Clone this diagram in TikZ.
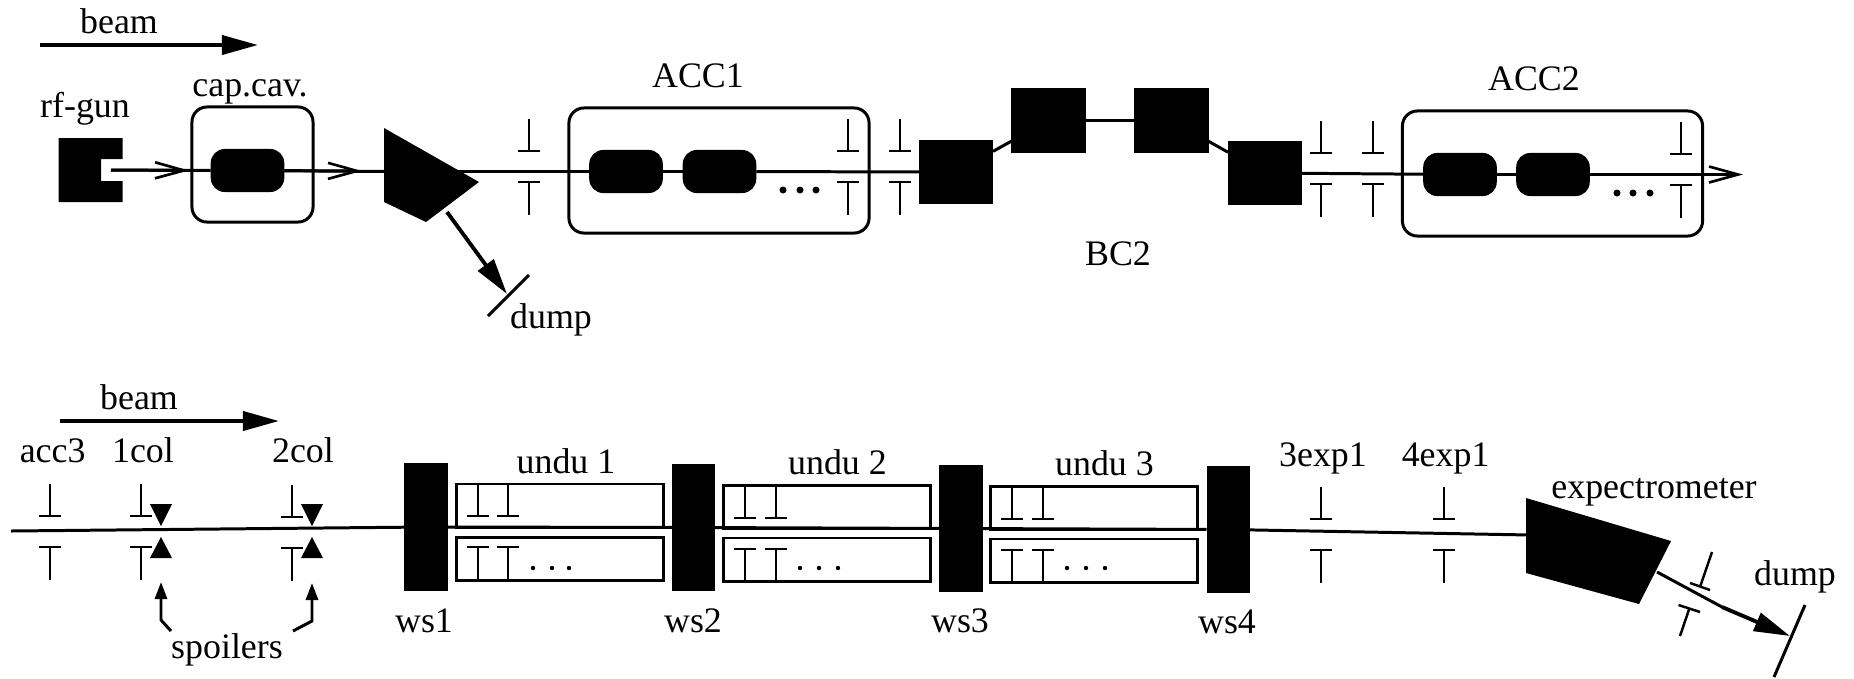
\documentclass[tikz,border=0pt]{standalone}
\usepackage{fontspec}
\setmainfont{Liberation Serif}
\usetikzlibrary{arrows.meta}
\begin{document}
\begin{tikzpicture}[
        x=0.01cm, y=-0.01cm,
        line width=.85pt,
        >={Triangle[length=.36cm,width=.19cm]},
        barb/.style={-{Straight Barb[length=.29cm,width=.16cm,line width=.75pt]}},
        small tip/.style={-{Triangle[length=.17cm,width=.12cm]}},
        screen/.style={line width=.7pt},
        txt/.style={anchor=base, inner sep=0, font=\fontsize{10.2}{12}\selectfont},
        solid box/.style={fill=black, inner sep=0, outer sep=0},
        magnet/.style={solid box, minimum width=.74cm, minimum height=.645cm},
        wscan/.style={solid box, minimum width=.43cm, minimum height=1.27cm},
        cavity/.style={solid box, rounded corners=.14cm, minimum width=.735cm, minimum height=.43cm},
        module/.style={draw, rounded corners=.15cm, inner sep=0, minimum height=1.25cm, minimum width=3cm},
        undubox/.style={draw, inner sep=0, minimum width=2.06cm, minimum height=.43cm}
    ]
    \useasboundingbox (0,0) rectangle (1854,678);

    \node[txt] (beamA) at (119,33) {beam};
    \node[txt] (rfgun) at (85,117) {rf-gun};
    \node[txt] (capcavtxt) at (250,96) {cap.cav.};
    \node[txt] (acc1txt) at (698,87) {ACC1};
    \node[txt] (acc2txt) at (1534,90) {ACC2};
    \node[txt] (bc2txt) at (1118,265) {BC2};
    \node[txt] (dumpA) at (551,328) {dump};

    \node[module, minimum width=1.21cm, minimum height=1.15cm] (capcav) at (252.5,164.5) {};
    \node[module] (acc1) at (719,170.5) {};
    \node[module] (acc2) at (1552.5,173.5) {};
    \node[cavity] (cav0) at (247.5,170.5) {};
    \node[cavity] (cav1a) at (626,171.5) {};
    \node[cavity] (cav1b) at (719.5,171.5) {};
    \node[cavity] (cav2a) at (1460,174.5) {};
    \node[cavity] (cav2b) at (1553,174.5) {};
    \node[magnet] (bc1) at (956,172) {};
    \node[magnet] (bc2) at (1048.5,120.5) {};
    \node[magnet] (bc3) at (1171.5,120.5) {};
    \node[magnet] (bc4) at (1265,173) {};

    \fill (58.5,138) -- (122.6,138) -- (122.6,159) -- (101,159) -- (101,181)
        -- (122.6,181) -- (122.6,202) -- (58.5,202) -- cycle;
    \fill (384,128) -- (479,182) -- (426,222) -- (384,202) -- cycle;
    \coordinate (gunout) at (111,170);
    \coordinate (tipA) at (189,170.5);
    \coordinate (tipB) at (362,171);
    \coordinate (bendin) at (390,171.5);
    \coordinate (bendout) at (447,212);
    \coordinate (dumpAtip) at (507,294);
    \coordinate (dumpAa) at (529,275);
    \coordinate (dumpAb) at (488,316);
    \coordinate (tipC) at (1743,174.5);

    \draw[barb] (gunout) -- (tipA);
    \draw (gunout) -- (cav0);
    \draw[barb] (cav0) -- (tipB);
    \draw (cav0) -- (bendin);
    \draw (bendin) -- (cav1a);
    \draw (cav1a) -- (cav1b);
    \draw (cav1b) -- (bc1);
    \draw (bc1) -- (bc2);
    \draw (bc2) -- (bc3);
    \draw (bc3) -- (bc4);
    \draw (bc4) -- (cav2a);
    \draw (cav2a) -- (cav2b);
    \draw[barb] (cav2b) -- (tipC);
    \draw[->, line width=1.1pt] (bendout) -- (dumpAtip);
    \draw (dumpAa) -- (dumpAb);
    \draw[->, line width=1.1pt] (40,45) -- (258,45);

    \foreach \x/\y in {783/190, 800/190, 816/190, 1617/193, 1633/193, 1650/193}
        \fill (\x,\y) circle[radius=.035cm];

    \foreach \x/\y in {529/119, 848/119, 900/119, 1321/121, 1373/121, 1681/122,
        50/484, 141/484, 292/485, 478/484, 508/484, 745/486, 776/486, 1012/487, 1043/487,
        1321/487, 1444/487} {
        \draw[screen] ({\x},{\y}) -- ({\x},{\y+32});
        \draw[screen] ({\x-11},{\y+32}) -- ({\x+11},{\y+32});
        \draw[screen] ({\x-11},{\y+63}) -- ({\x+11},{\y+63});
        \draw[screen] ({\x},{\y+63}) -- ({\x},{\y+96});
    }

    \node[txt] (beamB) at (139,409) {beam};
    \node[txt] (acc3) at (52.6,462) {acc3};
    \node[txt] (col1) at (143,462) {1col};
    \node[txt] (col2) at (303,462) {2col};
    \node[txt] (spoilers) at (227,658) {spoilers};
    \node[txt] (undu1txt) at (566,473) {undu 1};
    \node[txt] (undu2txt) at (837.5,474) {undu 2};
    \node[txt] (undu3txt) at (1104.5,475) {undu 3};
    \node[txt] (exp3) at (1323,466) {3exp1};
    \node[txt] (exp4) at (1445.6,466) {4exp1};
    \node[txt] (exptxt) at (1654,498) {expectrometer};
    \node[txt] (dumpB) at (1795,585) {dump};

    \node[wscan] (ws1) at (426,527) {};
    \node[wscan] (ws2) at (693.5,527.5) {};
    \node[wscan] (ws3) at (961,528.5) {};
    \node[wscan] (ws4) at (1228,529.5) {};
    \node[txt] (ws1txt) at (424,632) {ws1};
    \node[txt] (ws2txt) at (693,632) {ws2};
    \node[txt] (ws3txt) at (960,632) {ws3};
    \node[txt] (ws4txt) at (1227,633) {ws4};

    \node[undubox] (undu1a) at (560,505.5) {};
    \node[undubox] (undu1b) at (560,559) {};
    \node[undubox] (undu2a) at (827,507) {};
    \node[undubox] (undu2b) at (827,559.5) {};
    \node[undubox] (undu3a) at (1094,508) {};
    \node[undubox] (undu3b) at (1094,560.5) {};

    \foreach \x/\y in {533/568, 552/568, 569/568, 800/568, 819/568, 838/568,
        1067/568, 1086/568, 1105/568}
        \fill (\x,\y) circle[radius=.022cm];

    \foreach \x in {161,312} {
        \fill ({\x-11},504) -- ({\x+11},504) -- ({\x},526) -- cycle;
        \fill ({\x-11},558) -- ({\x+11},558) -- ({\x},537) -- cycle;
    }
    \fill (1526,498) -- (1671,541) -- (1639,604) -- (1526,573) -- cycle;

    \coordinate (linestart) at (11,531);
    \coordinate (specin) at (1530,535);
    \coordinate (specout) at (1657,572);
    \coordinate (specbend) at (1722,607);
    \coordinate (dumpBtip) at (1790,636);
    \coordinate (dumpBa) at (1805,605);
    \coordinate (dumpBb) at (1774,677);
    \draw (linestart) -- (ws1);
    \draw (ws1) -- (ws2);
    \draw (ws2) -- (ws3);
    \draw (ws3) -- (ws4);
    \draw (ws4) -- (specin);
    \draw (specout) -- (specbend);
    \draw[->, line width=1.1pt] (specbend) -- (dumpBtip);
    \draw (dumpBa) -- (dumpBb);

    \draw[screen] (1712,552) -- (1700,587);
    \draw[screen] (1690,583) -- (1710,590);
    \draw[screen] (1678.5,605) -- (1700,612);
    \draw[screen] (1689.5,608) -- (1680,636);

    \draw[->, line width=1.1pt] (60,421) -- (279,421);
    \draw[small tip] (171,631) -- (161,620) -- (161,582);
    \draw[small tip] (293,631) -- (312,621) -- (312,583);
\end{tikzpicture}
\end{document}
